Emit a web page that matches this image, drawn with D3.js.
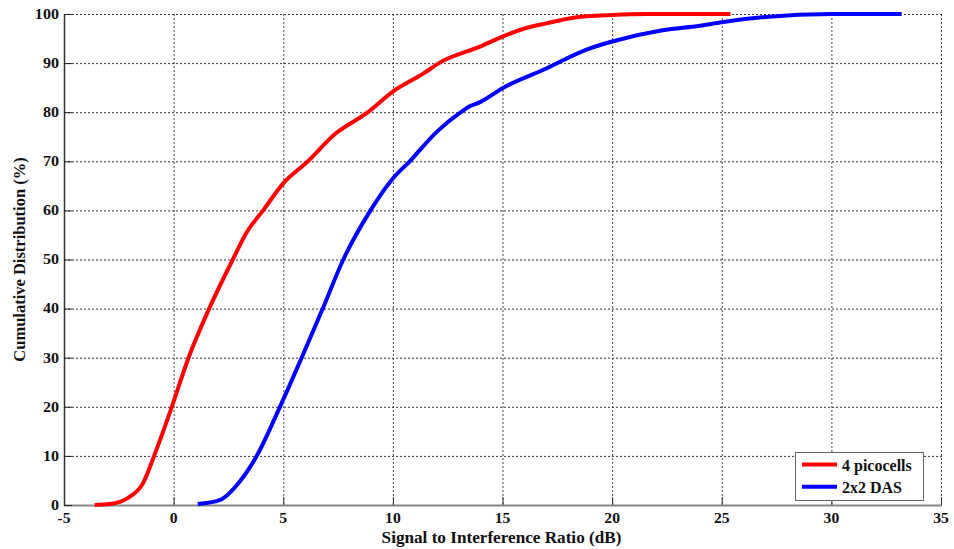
<!DOCTYPE html>
<html>
<head>
<meta charset="utf-8">
<script src="https://cdn.jsdelivr.net/npm/d3@7"></script>
<style>
  html, body { margin: 0; padding: 0; background: #fff; }
  svg { display: block; }
  text { font-family: "Liberation Serif", "Times New Roman", serif; font-weight: bold; fill: #111; }
</style>
</head>
<body>
<svg id="chart" width="954" height="549"></svg>
<script>
// SIR (dB) vs cumulative percentage for each deployment
const picoX = [-3.6, -2.9, -2.1, -1.4, -0.89, -0.08, 0.68, 1.62, 2.7, 3.3, 4.1, 5.0, 6.1, 7.4, 8.8, 10.0, 11.4, 12.1, 14.0, 15.0, 15.9, 17.0, 18.3, 20.0, 21.6, 25.4];
const picoY = [0, 0.2, 1.4, 4.4, 10, 20, 30, 40, 50, 55.3, 60.1, 65.5, 69.9, 75.7, 79.8, 84.2, 87.9, 90, 93.4, 95.4, 96.9, 98.1, 99.3, 99.8, 100, 100];

const dasX = [1.1, 2.1, 3.0, 3.79, 4.85, 5.84, 6.8, 7.74, 8.98, 10.0, 10.77, 12.0, 13.1, 13.5, 14.0, 15.0, 17.0, 18.8, 20.0, 22.3, 24.0, 25.0, 27.0, 30.0, 33.2];
const dasY = [0.2, 1, 4.7, 10, 20, 30, 40, 50, 60, 66.5, 70, 76, 80, 81.2, 82.1, 84.9, 88.9, 92.7, 94.4, 96.7, 97.6, 98.3, 99.4, 100, 100];

const seriesNames = ["4 picocells", "2x2 DAS"];
const seriesColors = ["#ff0000", "#0000ff"];

const xTicks = [-5, 0, 5, 10, 15, 20, 25, 30, 35];
const yTicks = [0, 10, 20, 30, 40, 50, 60, 70, 80, 90, 100];

const xTitle = "Signal to Interference Ratio (dB)";
const yTitle = "Cumulative Distribution (%)";

const svg = d3.select("#chart");
const plotLeft = 64, plotRight = 941, plotTop = 14, plotBottom = 505;

const x = d3.scaleLinear().domain([-5, 35]).range([plotLeft, plotRight]);
const y = d3.scaleLinear().domain([0, 100]).range([plotBottom, plotTop]);

// dotted grid
const grid = svg.append("g");
grid.selectAll("line.gx").data(xTicks).join("line")
  .attr("x1", d => x(d) + 0.5).attr("x2", d => x(d) + 0.5)
  .attr("y1", plotTop).attr("y2", plotBottom)
  .attr("stroke", "#444").attr("stroke-width", 1).attr("stroke-dasharray", "2,2");
grid.selectAll("line.gy").data(yTicks).join("line")
  .attr("x1", plotLeft).attr("x2", plotRight + 1)
  .attr("y1", d => y(d) + 0.5).attr("y2", d => y(d) + 0.5)
  .attr("stroke", "#333").attr("stroke-width", 1).attr("stroke-dasharray", "2,2");

// axes lines and inward ticks
svg.append("line").attr("x1", plotLeft + 0.5).attr("x2", plotLeft + 0.5).attr("y1", plotTop).attr("y2", plotBottom + 1)
  .attr("stroke", "#333").attr("stroke-width", 1.5);
svg.append("line").attr("x1", plotLeft).attr("x2", plotRight + 1).attr("y1", plotBottom + 0.5).attr("y2", plotBottom + 0.5)
  .attr("stroke", "#888").attr("stroke-width", 2);
svg.append("g").selectAll("line").data(xTicks).join("line")
  .attr("x1", d => x(d) + 0.5).attr("x2", d => x(d) + 0.5)
  .attr("y1", plotBottom).attr("y2", plotBottom - 8)
  .attr("stroke", "#333").attr("stroke-width", 1);
svg.append("g").selectAll("line").data(yTicks).join("line")
  .attr("x1", plotLeft).attr("x2", plotLeft + 8)
  .attr("y1", d => y(d) + 0.5).attr("y2", d => y(d) + 0.5)
  .attr("stroke", "#222").attr("stroke-width", 1);

// tick labels
svg.append("g").selectAll("text").data(xTicks).join("text")
  .attr("transform", d => `translate(${x(d)},523) scale(1.12,1)`)
  .attr("text-anchor", "middle").attr("font-size", 14)
  .text(d => d);
svg.append("g").selectAll("text").data(yTicks).join("text")
  .attr("transform", d => `translate(59,${y(d) + 4.8}) scale(1.15,1)`)
  .attr("text-anchor", "end").attr("font-size", 14)
  .text(d => d);

// axis titles
svg.append("text")
  .attr("transform", `translate(${(plotLeft + plotRight) / 2 - 1},543) scale(1.04,1)`)
  .attr("text-anchor", "middle").attr("font-size", 16.5)
  .text(xTitle);
svg.append("text")
  .attr("transform", `translate(25,${(plotTop + plotBottom) / 2}) rotate(-90)`)
  .attr("text-anchor", "middle").attr("font-size", 16.5)
  .text(yTitle);

// curves
const line = d3.line().x(d => x(d[0])).y(d => y(d[1])).curve(d3.curveMonotoneX);
const series = [d3.zip(picoX, picoY), d3.zip(dasX, dasY)];
svg.append("g").selectAll("path").data(series).join("path")
  .attr("d", line)
  .attr("fill", "none")
  .attr("stroke", (d, i) => seriesColors[i])
  .attr("stroke-width", 4)
  .attr("stroke-linejoin", "round");

// legend
const lg = svg.append("g");
lg.append("rect").attr("x", 795.5).attr("y", 452.5).attr("width", 128).attr("height", 48)
  .attr("fill", "#fff").attr("stroke", "#666").attr("stroke-width", 1);
const rows = lg.selectAll("g").data(seriesNames).join("g")
  .attr("transform", (d, i) => `translate(0,${464.5 + i * 22.3})`);
rows.append("line").attr("x1", 802).attr("x2", 837).attr("y1", 0).attr("y2", 0)
  .attr("stroke", (d, i) => seriesColors[i]).attr("stroke-width", 4);
rows.append("text").attr("x", 842).attr("y", 6).attr("font-size", 16).text(d => d);
</script>
</body>
</html>
